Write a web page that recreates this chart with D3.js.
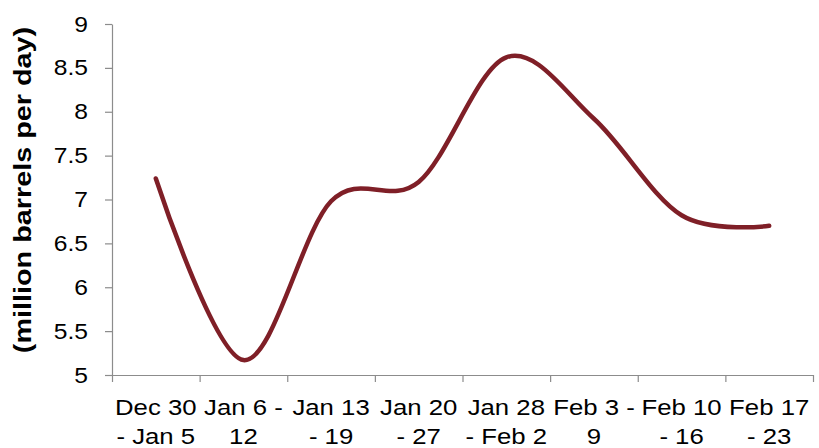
<!DOCTYPE html>
<html>
<head>
<meta charset="utf-8">
<script src="https://cdn.jsdelivr.net/npm/d3@7"></script>
<style>
  html, body { margin: 0; padding: 0; background: #ffffff; }
  svg { display: block; }
  text { font-family: "Liberation Sans", Arial, sans-serif; fill: #000; }
</style>
</head>
<body>
<svg id="chart" width="819" height="448"></svg>
<script>
// ---- data ----
const categories = ["Dec 30 - Jan 5", "Jan 6 - 12", "Jan 13 - 19", "Jan 20 - 27",
                    "Jan 28 - Feb 2", "Feb 3 - 9", "Feb 10 - 16", "Feb 17 - 23"];
const labelLine1 = ["Dec 30", "Jan 6 -", "Jan 13", "Jan 20", "Jan 28", "Feb 3 -", "Feb 10", "Feb 17"];
const labelLine2 = ["- Jan 5", "12", "- 19", "- 27", "- Feb 2", "9", "- 16", "- 23"];
const values = [7.24, 5.17, 6.98, 7.20, 8.62, 7.92, 6.82, 6.70];
const yTicks = [5, 5.5, 6, 6.5, 7, 7.5, 8, 8.5, 9];
const yTickLabels = ["5", "5.5", "6", "6.5", "7", "7.5", "8", "8.5", "9"];
const yTitle = "(million barrels per day)";

// ---- layout ----
const plotLeft = 112, plotRight = 813, plotTop = 24, plotBottom = 375;
const stretch = 1.12;
const svg = d3.select("#chart");

const x = d3.scaleBand().domain(categories).range([plotLeft, plotRight]).padding(0);
const xEdges = d3.scaleLinear().domain([0, categories.length]).range([plotLeft, plotRight]);
const y = d3.scaleLinear().domain([5, 9]).range([plotBottom, plotTop]);

const axisColor = "#8c8c8c";

// Y axis
const yAxis = svg.append("g")
  .attr("transform", `translate(${plotLeft},0)`)
  .call(d3.axisLeft(y).tickValues(yTicks)
        .tickFormat((d, i) => yTickLabels[i])
        .tickSize(7).tickSizeOuter(0).tickPadding(17));
yAxis.select(".domain").attr("stroke", axisColor).attr("stroke-width", 1.2);
yAxis.selectAll(".tick line").attr("stroke", axisColor).attr("stroke-width", 1.2);
yAxis.selectAll(".tick text")
  .attr("font-size", 22)
  .attr("font-family", "Liberation Sans, Arial, sans-serif")
  .attr("fill", "#000")
  .each(function () {
    const t = d3.select(this);
    const tx = +t.attr("x");
    t.attr("x", 0).attr("transform", `translate(${tx},0) scale(${stretch},1)`);
  });

// X axis: tick marks at band edges
const xTickAxis = svg.append("g")
  .attr("transform", `translate(0,${plotBottom})`)
  .call(d3.axisBottom(xEdges).tickValues(d3.range(categories.length + 1))
        .tickFormat("").tickSize(7).tickSizeOuter(0));
xTickAxis.select(".domain").attr("stroke", axisColor).attr("stroke-width", 1.2);
xTickAxis.selectAll(".tick line").attr("stroke", axisColor).attr("stroke-width", 1.2);

// X axis: labels at band centres
const xLabelAxis = svg.append("g")
  .attr("transform", `translate(0,${plotBottom})`)
  .call(d3.axisBottom(x).tickSize(0).tickSizeOuter(0));
xLabelAxis.select(".domain").remove();
xLabelAxis.selectAll(".tick text").each(function (d, i) {
  const t = d3.select(this);
  t.text(null)
   .attr("y", 0).attr("dy", null)
   .attr("font-size", 23)
   .attr("font-family", "Liberation Sans, Arial, sans-serif")
   .attr("fill", "#000")
   .attr("text-anchor", "middle")
   .attr("transform", `scale(${stretch},1)`);
  t.append("tspan").attr("x", 0).attr("y", 40).text(labelLine1[i]);
  t.append("tspan").attr("x", 0).attr("y", 69).text(labelLine2[i]);
});

// Y axis title
svg.append("text")
  .attr("transform", `translate(31,190) rotate(-90) scale(1.2,1)`)
  .attr("text-anchor", "middle")
  .attr("font-size", 24)
  .attr("font-weight", "bold")
  .text(yTitle);

// Line
const line = d3.line()
  .x((d, i) => x(categories[i]) + x.bandwidth() / 2)
  .y(d => y(d))
  .curve(d3.curveCardinal.tension(0));

svg.append("path")
  .datum(values)
  .attr("d", line)
  .attr("fill", "none")
  .attr("stroke", "#7f1f27")
  .attr("stroke-width", 4.5)
  .attr("stroke-linecap", "round")
  .attr("stroke-linejoin", "round");
</script>
</body>
</html>
